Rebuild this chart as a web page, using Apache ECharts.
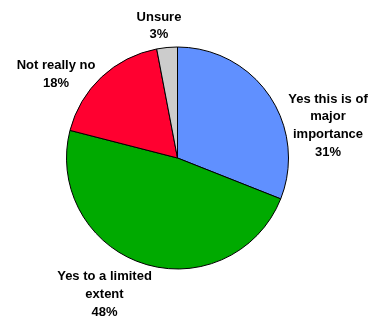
<!DOCTYPE html>
<html>
<head>
<meta charset="utf-8">
<script src="https://cdn.jsdelivr.net/npm/echarts@6/dist/echarts.min.js"></script>
<style>
  html, body { margin: 0; padding: 0; background: #fff; }
  #chart { width: 371px; height: 318px; }
</style>
</head>
<body>
<div id="chart"></div>
<script>
// categories and values, clockwise from 12 o'clock
const categories = ['Yes this is of\nmajor\nimportance', 'Yes to a limited\nextent', 'Not really no', 'Unsure'];
const values = [31, 48, 18, 3];
const colors = ['#6090FF', '#00AA00', '#FF0030', '#CCCCCC'];
// label block centres (px)
const labelPos = [[328, 125.5], [104.5, 294.5], [56, 74.5], [159, 26]];

const chart = echarts.init(document.getElementById('chart'));
chart.setOption({
  animation: false,
  series: [{
    type: 'pie',
    center: [177.5, 158],
    radius: 111,
    startAngle: 90,
    clockwise: true,
    data: categories.map((name, i) => ({
      name: name,
      value: values[i],
      itemStyle: { color: colors[i] }
    })),
    itemStyle: { borderColor: '#000', borderWidth: 1 },
    emphasis: { disabled: true },
    label: {
      show: true,
      position: 'outside',
      formatter: '{b}\n{d}%',
      fontFamily: 'Liberation Sans, Arial, sans-serif',
      fontWeight: 'bold',
      fontSize: 13,
      lineHeight: 17.7,
      color: '#000',
      align: 'center',
      overflow: 'none',
      width: 200
    },
    labelLine: { show: false },
    labelLayout: function (params) {
      const p = labelPos[params.dataIndex];
      return { x: p[0], y: p[1], align: 'center', verticalAlign: 'middle' };
    }
  }]
});
</script>
</body>
</html>
